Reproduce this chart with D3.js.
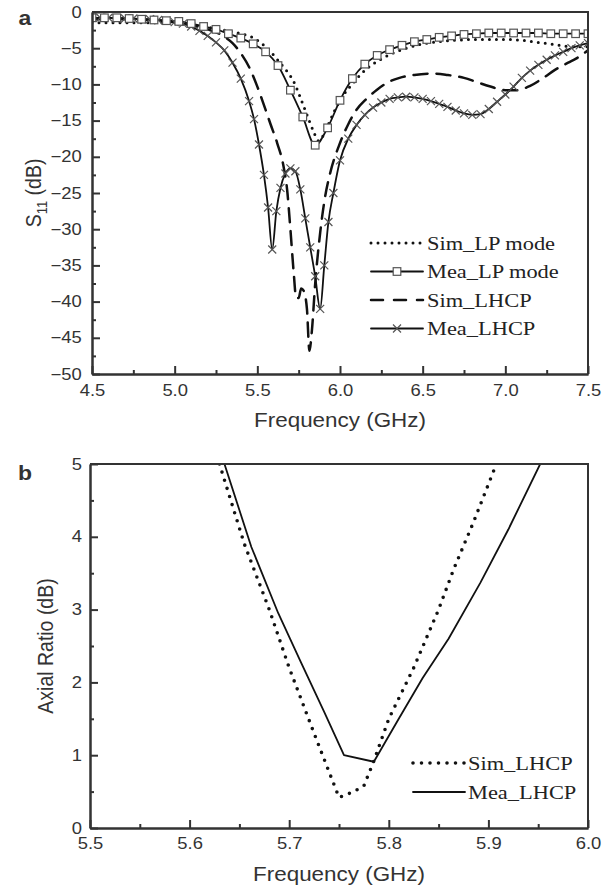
<!DOCTYPE html>
<html lang="en">
<head>
<meta charset="UTF-8" />
<title>S11 and Axial Ratio</title>
<script src="https://d3js.org/d3.v7.min.js"></script>
<style>
  body { margin: 0; background: #fff; }
  .sans { font-family: "Liberation Sans", Arial, sans-serif; fill: #333; }
  .serif { font-family: "Liberation Serif", "Times New Roman", serif; fill: #222; }
</style>
</head>
<body>
<script>
// ---- panel a: S11 ----
const simLpF = [4.5,4.7,4.9,5.0,5.1,5.2,5.3,5.4,5.47,5.55,5.6,5.64,5.68,5.72,5.76,5.8,5.84,5.87,5.9,5.93,5.97,6.02,6.08,6.13,6.18,6.25,6.3,6.4,6.5,6.6,6.7,6.8,6.9,7.0,7.1,7.2,7.3,7.4,7.5];
const simLpS = [-1.5,-1.5,-1.5,-1.6,-1.8,-2.1,-2.5,-3.0,-3.5,-4.8,-6.0,-7.1,-8.2,-9.6,-11.8,-14.2,-16.5,-17.8,-17.0,-15.5,-13.5,-11.5,-9.8,-8.5,-7.5,-6.5,-5.9,-5.0,-4.4,-4.1,-3.9,-3.8,-3.8,-3.8,-3.9,-4.2,-4.5,-4.8,-4.8];

const meaLpF = [4.5,4.575,4.65,4.725,4.8,4.875,4.95,5.025,5.1,5.175,5.25,5.325,5.4,5.475,5.55,5.625,5.7,5.775,5.85,5.925,6.0,6.075,6.15,6.225,6.3,6.375,6.45,6.525,6.6,6.675,6.75,6.825,6.9,6.975,7.05,7.125,7.2,7.275,7.35,7.425,7.5];
const meaLpS = [-0.8,-0.8,-0.8,-0.9,-1.0,-1.1,-1.2,-1.3,-1.6,-2.0,-2.4,-3.0,-3.6,-4.4,-5.5,-7.4,-10.8,-14.5,-18.4,-16.0,-12.2,-9.2,-7.2,-6.0,-5.2,-4.6,-4.1,-3.8,-3.5,-3.3,-3.1,-3.0,-2.9,-2.9,-2.9,-2.9,-2.9,-3.0,-3.0,-3.0,-3.0];

const simLhcpF = [4.5,4.7,4.9,5.0,5.1,5.2,5.3,5.35,5.4,5.45,5.5,5.53,5.58,5.62,5.66,5.68,5.7,5.72,5.735,5.75,5.765,5.78,5.8,5.815,5.83,5.85,5.88,5.91,5.94,6.0,6.05,6.1,6.16,6.22,6.3,6.36,6.45,6.56,6.65,6.75,6.83,6.91,7.0,7.07,7.15,7.23,7.3,7.38,7.43,7.5];
const simLhcpS = [-1.0,-1.0,-1.2,-1.4,-1.8,-2.4,-3.4,-4.3,-5.7,-7.6,-10.3,-12.2,-15.5,-18.1,-21.5,-24.5,-30.0,-36.0,-39.5,-39.5,-38.2,-38.5,-41.0,-46.8,-44.0,-37.5,-30.5,-25.5,-22.3,-18.1,-15.5,-13.5,-12.0,-10.8,-9.6,-9.1,-8.7,-8.5,-8.7,-9.1,-9.7,-10.3,-10.8,-10.8,-10.2,-9.1,-8.0,-7.0,-6.4,-5.3];

const meaLhcpF = [4.5,4.55,4.6,4.65,4.7,4.75,4.8,4.85,4.9,4.95,5.0,5.05,5.1,5.15,5.2,5.25,5.3,5.35,5.4,5.45,5.48,5.51,5.54,5.565,5.59,5.615,5.64,5.67,5.7,5.73,5.76,5.79,5.82,5.85,5.88,5.905,5.93,5.96,6.0,6.05,6.1,6.15,6.2,6.25,6.3,6.35,6.4,6.45,6.5,6.55,6.6,6.65,6.7,6.75,6.8,6.85,6.9,6.95,7.0,7.05,7.1,7.15,7.2,7.25,7.3,7.35,7.4,7.45,7.5];
const meaLhcpS = [-0.8,-0.8,-0.8,-0.9,-0.9,-0.9,-1.0,-1.0,-1.1,-1.2,-1.4,-1.6,-2.0,-2.6,-3.3,-4.2,-5.3,-7.0,-9.2,-12.3,-14.8,-18.3,-22.5,-27.0,-32.8,-27.5,-24.3,-22.3,-21.6,-22.0,-24.5,-28.5,-32.5,-36.5,-41.0,-35.0,-29.0,-25.0,-20.5,-17.5,-15.6,-14.2,-13.2,-12.5,-12.0,-11.8,-11.7,-11.8,-12.0,-12.3,-12.7,-13.1,-13.6,-14.0,-14.2,-14.1,-13.4,-12.4,-11.4,-10.3,-9.1,-8.1,-7.3,-6.6,-6.0,-5.5,-5.0,-4.6,-4.3];

const aXTicks = [4.5,5.0,5.5,6.0,6.5,7.0,7.5];
const aXMinor = [4.75,5.25,5.75,6.25,6.75,7.25];
const aYTicks = [0,-5,-10,-15,-20,-25,-30,-35,-40,-45,-50];
const aYMinor = [-2.5,-7.5,-12.5,-17.5,-22.5,-27.5,-32.5,-37.5,-42.5,-47.5];
const aLegend = ["Sim_LP mode","Mea_LP mode","Sim_LHCP","Mea_LHCP"];

// ---- panel b: axial ratio ----
const arSimF = [5.630,5.655,5.68,5.70,5.725,5.75,5.765,5.775,5.785,5.80,5.825,5.85,5.865,5.885,5.908];
const arSimV = [5.0,3.9,3.0,2.2,1.3,0.42,0.5,0.58,0.92,1.5,2.2,3.0,3.55,4.2,5.0];
const arMeaF = [5.635,5.662,5.689,5.711,5.735,5.755,5.785,5.81,5.834,5.86,5.892,5.92,5.952];
const arMeaV = [5.0,3.86,2.95,2.3,1.6,1.0,0.91,1.5,2.06,2.6,3.37,4.1,5.0];

const bXTicks = [5.5,5.6,5.7,5.8,5.9,6.0];
const bXMinor = [5.55,5.65,5.75,5.85,5.95];
const bYTicks = [0,1,2,3,4,5];
const bYMinor = [0.5,1.5,2.5,3.5,4.5];
const bLegend = ["Sim_LHCP","Mea_LHCP"];

const SX = 1.15; // text in the figure is a bit wide
const ink = '#111', axisInk = '#333', markInk = '#555';

const svg = d3.select('body').append('svg').attr('width', 605).attr('height', 887);

function txt(x, y, s, cls, size, anchor, extra) {
    return svg.append('text').attr('class', cls)
        .attr('transform', `translate(${x},${y}) scale(${SX},1)` + (extra || ''))
        .attr('font-size', size).attr('text-anchor', anchor || 'start').text(s);
}

function frame(x, y, xTicks, xMinor, yTicks, yMinor, xFmt, yFmt, padX, padY) {
    const [x0, x1] = x.range(), [y0, y1] = y.range();
    const g = svg.append('g');
    const bottom = g.append('g').attr('transform', `translate(0,${y0})`)
        .call(d3.axisBottom(x).tickValues(xTicks).tickFormat(xFmt).tickSizeInner(-8).tickSizeOuter(0).tickPadding(padX));
    g.append('g').attr('transform', `translate(0,${y0})`)
        .call(d3.axisBottom(x).tickValues(xMinor).tickFormat('').tickSizeInner(-4).tickSizeOuter(0));
    const left = g.append('g').attr('transform', `translate(${x0},0)`)
        .call(d3.axisLeft(y).tickValues(yTicks).tickFormat(yFmt).tickSizeInner(-8).tickSizeOuter(0).tickPadding(padY));
    g.append('g').attr('transform', `translate(${x0},0)`)
        .call(d3.axisLeft(y).tickValues(yMinor).tickFormat('').tickSizeInner(-4).tickSizeOuter(0));
    g.selectAll('.domain, .tick line').attr('stroke', axisInk).attr('stroke-width', 2);
    g.selectAll('.tick text').attr('class', 'sans').attr('font-size', 16)
        .attr('transform', `scale(${SX},1)`).attr('fill', axisInk);
    // box
    g.append('path').attr('d', `M${x0},${y1}H${x1}V${y0}`)
        .attr('fill', 'none').attr('stroke', axisInk).attr('stroke-width', 2);
}

function clip(id, x, y) {
    const [x0, x1] = x.range(), [y0, y1] = y.range();
    svg.append('clipPath').attr('id', id).append('rect')
        .attr('x', x0).attr('y', y1).attr('width', x1 - x0).attr('height', y0 - y1);
}

function curve(g, x, y, fs, vs, style, curveType) {
    const pts = fs.map((f, i) => [f, vs[i]]);
    const line = d3.line().x(d => x(d[0])).y(d => y(d[1])).curve(curveType);
    const p = g.append('path').datum(pts).attr('d', line).attr('fill', 'none')
        .attr('stroke', ink).attr('stroke-width', style.w).attr('stroke-linecap', 'round')
        .attr('stroke-linejoin', 'round');
    if (style.dash) p.attr('stroke-dasharray', style.dash);
    return pts;
}

function square(g, cx, cy) {
    g.append('rect').attr('x', cx - 3.8).attr('y', cy - 3.8).attr('width', 7.6).attr('height', 7.6)
        .attr('fill', '#fff').attr('stroke', markInk).attr('stroke-width', 1.2);
}
function cross(g, cx, cy) {
    g.append('path').attr('d', `M${cx - 4},${cy - 4}L${cx + 4},${cy + 4}M${cx - 4},${cy + 4}L${cx + 4},${cy - 4}`)
        .attr('stroke', markInk).attr('stroke-width', 1.2);
}

// ---------- panel a ----------
const xA = d3.scaleLinear().domain([4.5, 7.5]).range([92, 588]);
const yA = d3.scaleLinear().domain([-50, 0]).range([374, 12]);
clip('clipA', xA, yA);
const gA = svg.append('g').attr('clip-path', 'url(#clipA)');

const dotA = { w: 3, dash: '0 7' };
const dashA = { w: 2.5, dash: '14 9' };
const solid = { w: 1.8 };

curve(gA, xA, yA, simLhcpF, simLhcpS, dashA, d3.curveMonotoneX);
curve(gA, xA, yA, simLpF, simLpS, dotA, d3.curveMonotoneX);
const mlp = curve(gA, xA, yA, meaLpF, meaLpS, solid, d3.curveMonotoneX);
const mlh = curve(gA, xA, yA, meaLhcpF, meaLhcpS, solid, d3.curveMonotoneX);
mlh.forEach(d => cross(gA, xA(d[0]), yA(d[1])));
mlp.forEach(d => square(gA, xA(d[0]), yA(d[1])));

frame(xA, yA, aXTicks, aXMinor, aYTicks, aYMinor, d3.format('.1f'), d3.format('d'), 11, 9);

// legend a
const legA = svg.append('g');
const legAStyles = [dotA, solid, { w: 2.5, dash: '12 11' }, solid];
aLegend.forEach((name, i) => {
    const yy = 243 + i * 28.5;
    const l = legA.append('line').attr('x1', 371).attr('x2', 423).attr('y1', yy).attr('y2', yy)
        .attr('stroke', ink).attr('stroke-width', legAStyles[i].w).attr('stroke-linecap', 'round');
    if (legAStyles[i].dash) l.attr('stroke-dasharray', legAStyles[i].dash);
    if (i === 1) square(legA, 397, yy);
    if (i === 3) cross(legA, 397, yy);
    txt(427, yy + 6.5, name, 'serif', 19.5);
});

// labels a
txt(25, 25, 'a', 'sans', 20).attr('font-weight', 'bold').attr('fill', '#111').attr('text-anchor', 'middle');
txt(340, 427, 'Frequency (GHz)', 'sans', 19.5, 'middle');
const yl = svg.append('text').attr('class', 'sans').attr('font-size', 19.5).attr('text-anchor', 'middle')
    .attr('transform', `translate(41,193) scale(${SX},1) rotate(-90)`);
yl.append('tspan').text('S');
yl.append('tspan').attr('font-size', 13).attr('dy', 5).text('11');
yl.append('tspan').attr('dy', -5).text(' (dB)');

// ---------- panel b ----------
const xB = d3.scaleLinear().domain([5.5, 6.0]).range([90, 588]);
const yB = d3.scaleLinear().domain([0, 5]).range([828, 464]);
clip('clipB', xB, yB);
const gB = svg.append('g').attr('clip-path', 'url(#clipB)');
const dotB = { w: 3.6, dash: '0 8.5' };
curve(gB, xB, yB, arSimF, arSimV, dotB, d3.curveLinear);
curve(gB, xB, yB, arMeaF, arMeaV, solid, d3.curveLinear);

frame(xB, yB, bXTicks, bXMinor, bYTicks, bYMinor, d3.format('.1f'), d3.format('d'), 10, 7);

const legB = svg.append('g');
const legBStyles = [dotB, solid];
bLegend.forEach((name, i) => {
    const yy = 763 + i * 29;
    const l = legB.append('line').attr('x1', 413).attr('x2', 465).attr('y1', yy).attr('y2', yy)
        .attr('stroke', ink).attr('stroke-width', legBStyles[i].w).attr('stroke-linecap', 'round');
    if (legBStyles[i].dash) l.attr('stroke-dasharray', legBStyles[i].dash);
    txt(468, yy + 6.5, name, 'serif', 19.5);
});

txt(25, 480, 'b', 'sans', 20).attr('font-weight', 'bold').attr('fill', '#111').attr('text-anchor', 'middle');
txt(339, 881, 'Frequency (GHz)', 'sans', 19.5, 'middle');
svg.append('text').attr('class', 'sans').attr('font-size', 19.5).attr('text-anchor', 'middle')
    .attr('transform', `translate(53,646) scale(${SX},1) rotate(-90)`).text('Axial Ratio (dB)');
</script>
</body>
</html>
